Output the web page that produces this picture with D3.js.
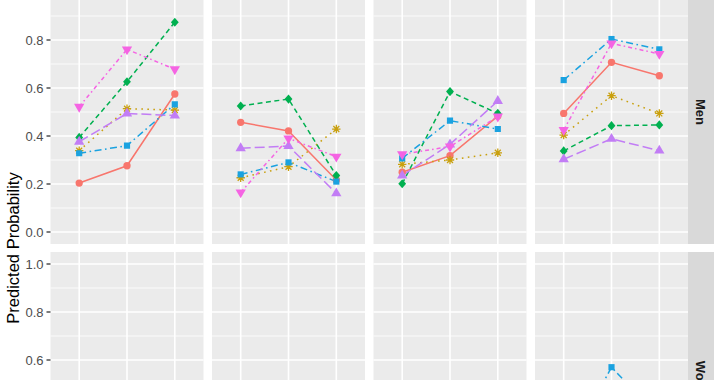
<!DOCTYPE html>
<html><head><meta charset="utf-8">
<script src="https://cdn.jsdelivr.net/npm/d3@7"></script>
<style>html,body{margin:0;padding:0;background:#fff;}svg{display:block;}</style>
</head><body>
<script>
// ---- data ----
const panels = ["P1", "P2", "P3", "P4"];
const categories = ["1", "2", "3"];
const rows = ["Men", "Women"];
const seriesNames = ["S1", "S2", "S3", "S4", "S5", "S6"];
const yTicks = [0.0, 0.2, 0.4, 0.6, 0.8, 1.0];
const yTickLabels = ["0.0", "0.2", "0.4", "0.6", "0.8", "1.0"];

// Men: values per panel (3 categories each)
const menS1 = [[0.204, 0.276, 0.575], [0.457, 0.421, 0.217], [0.249, 0.318, 0.483], [0.494, 0.707, 0.651]];
const menS2 = [[0.339, 0.514, 0.508], [0.226, 0.272, 0.429], [0.282, 0.300, 0.330], [0.404, 0.568, 0.494]];
const menS3 = [[0.394, 0.626, 0.874], [0.525, 0.554, 0.235], [0.201, 0.585, 0.494], [0.338, 0.443, 0.446]];
const menS4 = [[0.328, 0.360, 0.532], [0.240, 0.290, 0.210], [0.307, 0.464, 0.429], [0.633, 0.804, 0.761]];
const menS5 = [[0.376, 0.494, 0.485], [0.349, 0.358, 0.161], [0.235, 0.365, 0.546], [0.303, 0.388, 0.339]];
const menS6 = [[0.522, 0.761, 0.678], [0.165, 0.390, 0.314], [0.324, 0.356, 0.481], [0.425, 0.786, 0.742]];
// Women: only the upper part is visible; lower values are estimates
const womenS1 = [[0.20, 0.25, 0.35], [0.30, 0.28, 0.20], [0.22, 0.28, 0.38], [0.25, 0.40, 0.30]];
const womenS2 = [[0.30, 0.35, 0.38], [0.20, 0.25, 0.32], [0.25, 0.28, 0.30], [0.30, 0.35, 0.30]];
const womenS3 = [[0.25, 0.38, 0.42], [0.35, 0.38, 0.18], [0.18, 0.40, 0.35], [0.20, 0.30, 0.32]];
const womenS4 = [[0.28, 0.30, 0.40], [0.20, 0.24, 0.18], [0.26, 0.35, 0.32], [0.20, 0.57, 0.36]];
const womenS5 = [[0.30, 0.36, 0.37], [0.28, 0.30, 0.14], [0.20, 0.30, 0.40], [0.18, 0.30, 0.25]];
const womenS6 = [[0.38, 0.42, 0.40], [0.15, 0.30, 0.26], [0.28, 0.30, 0.36], [0.25, 0.45, 0.40]];

const menData = [menS1, menS2, menS3, menS4, menS5, menS6];
const womenData = [womenS1, womenS2, womenS3, womenS4, womenS5, womenS6];

const colors = ["#F8766D", "#C9A00E", "#00B050", "#1AA2E0", "#C27DF5", "#F564E3"];
const dashes = [null, "1.6,4.4", "5,3.5", "7,3.5,1.6,3.5", "10,4", "4,3,1.6,3"];
const shapes = ["circle", "asterisk", "diamond", "square", "triangle", "triangleDown"];

// ---- layout ----
const W = 720, H = 380;
const panelW = 153, panelStep = 161.5, panelLeft0 = 50.5;
const panelH = 264, rowTops = [-20, 252];
const stripX = 688, stripW = 26;

const svg = d3.select("body").append("svg").attr("width", W).attr("height", H)
  .style("font-family", "'Liberation Sans', Arial, Helvetica, sans-serif");

function symbolPath(shape) {
  switch (shape) {
    case "circle": return d3.symbol(d3.symbolCircle, 42)();
    case "diamond": {
      const r = 4.6; return `M0,${-r}L${r * 0.85},0L0,${r}L${-r * 0.85},0Z`;
    }
    case "square": return d3.symbol(d3.symbolSquare, 38)();
    case "triangle": return d3.symbol(d3.symbolTriangle, 46)();
    case "triangleDown": return d3.symbol(d3.symbolTriangle, 46)();
    default: return null;
  }
}

rows.forEach((rowName, ri) => {
  const top = rowTops[ri];
  const y = d3.scaleLinear().domain([-0.05, 1.05]).range([top + panelH, top]);
  const data = ri === 0 ? menData : womenData;

  panels.forEach((p, pi) => {
    const left = panelLeft0 + pi * panelStep;
    const x = d3.scalePoint().domain(categories).range([left, left + panelW]).padding(0.6);
    const g = svg.append("g");
    g.append("rect").attr("x", left).attr("y", top).attr("width", panelW).attr("height", panelH).attr("fill", "#EBEBEB");
    const minor = d3.range(0.1, 1.0, 0.2);
    g.selectAll(".minor").data(minor).enter().append("line")
      .attr("x1", left).attr("x2", left + panelW)
      .attr("y1", d => y(d)).attr("y2", d => y(d))
      .attr("stroke", "#fff").attr("stroke-width", 0.8);
    g.selectAll(".major").data(yTicks).enter().append("line")
      .attr("x1", left).attr("x2", left + panelW)
      .attr("y1", d => y(d)).attr("y2", d => y(d))
      .attr("stroke", "#fff").attr("stroke-width", 1.6);
    g.selectAll(".vmajor").data(categories).enter().append("line")
      .attr("x1", d => x(d)).attr("x2", d => x(d))
      .attr("y1", top).attr("y2", top + panelH)
      .attr("stroke", "#fff").attr("stroke-width", 1.6);

    const clipId = `clip-${ri}-${pi}`;
    svg.append("clipPath").attr("id", clipId).append("rect")
      .attr("x", left).attr("y", top).attr("width", panelW).attr("height", panelH);
    const mg = g.append("g").attr("clip-path", `url(#${clipId})`);

    const line = d3.line().x((d, i) => x(categories[i])).y(d => y(d));
    data.forEach((ser, si) => {
      mg.append("path").attr("d", line(ser[pi])).attr("fill", "none")
        .attr("stroke", colors[si]).attr("stroke-width", 1.5)
        .attr("stroke-dasharray", dashes[si]);
    });
    data.forEach((ser, si) => {
      ser[pi].forEach((v, i) => {
        const cx = x(categories[i]), cy = y(v);
        if (shapes[si] === "asterisk") {
          const r = 4.2, a = r * 0.7071;
          mg.append("path")
            .attr("d", `M${cx - r},${cy}L${cx + r},${cy}M${cx},${cy - r}L${cx},${cy + r}M${cx - a},${cy - a}L${cx + a},${cy + a}M${cx - a},${cy + a}L${cx + a},${cy - a}`)
            .attr("stroke", colors[si]).attr("stroke-width", 1.3).attr("fill", "none");
        } else {
          const rot = shapes[si] === "triangleDown" ? " rotate(180)" : "";
          mg.append("path").attr("d", symbolPath(shapes[si]))
            .attr("transform", `translate(${cx},${cy})${rot}`)
            .attr("fill", colors[si]);
        }
      });
    });
  });

  // y axis (only ticks that fall inside the visible window)
  const ax = svg.append("g");
  yTicks.forEach((t, i) => {
    const ty = y(t);
    if (ty < 6 || ty > H - 6) return;
    ax.append("line").attr("x1", panelLeft0 - 4).attr("x2", panelLeft0)
      .attr("y1", ty).attr("y2", ty).attr("stroke", "#333").attr("stroke-width", 1.3);
    ax.append("text").attr("x", panelLeft0 - 7).attr("y", ty).attr("dy", "0.35em")
      .attr("text-anchor", "end").attr("font-size", 13).attr("fill", "#4D4D4D").text(yTickLabels[i]);
  });

  // strip
  svg.append("rect").attr("x", stripX).attr("y", top).attr("width", stripW).attr("height", panelH).attr("fill", "#D9D9D9");
  svg.append("text").attr("transform", `translate(${stripX + stripW / 2},${top + panelH / 2}) rotate(90)`)
    .attr("text-anchor", "middle").attr("dy", "0.35em").attr("font-size", 13).attr("font-weight", "bold")
    .attr("fill", "#1A1A1A").text(rowName);
});

svg.append("text").attr("transform", `translate(13,248) rotate(-90)`)
  .attr("text-anchor", "middle").attr("dy", "0.35em").attr("font-size", 16.5).attr("fill", "#000")
  .text("Predicted Probability");
</script>
</body></html>
